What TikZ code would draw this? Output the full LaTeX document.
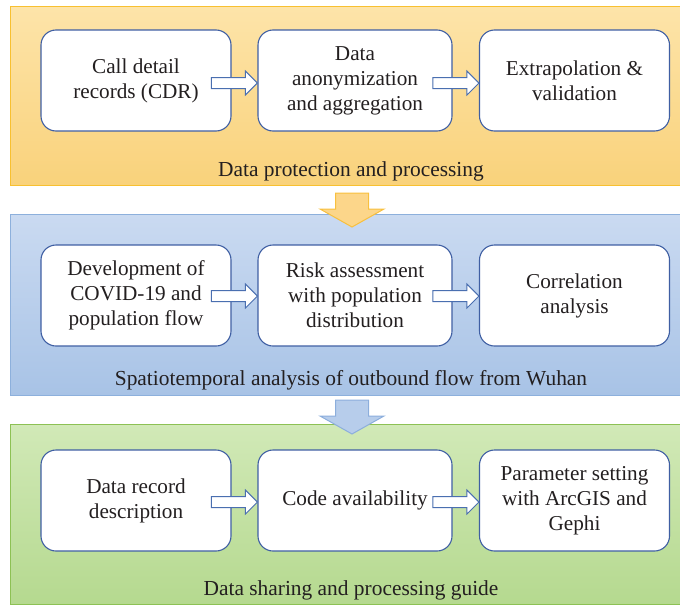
\documentclass[tikz,border=0pt]{standalone}
\usepackage{fontspec}
\setmainfont{Liberation Serif}
\usetikzlibrary{calc}
\definecolor{txt}{HTML}{231F20}
\definecolor{boxline}{HTML}{3F5FA3}
\definecolor{arrline}{HTML}{4A6FB0}
\definecolor{oTop}{HTML}{FDE4A9}
\definecolor{oBot}{HTML}{F9D27B}
\definecolor{oLine}{HTML}{F8C030}
\definecolor{bTop}{HTML}{CADAF1}
\definecolor{bBot}{HTML}{A8C3E6}
\definecolor{bLine}{HTML}{8DB0DC}
\definecolor{gTop}{HTML}{D1E9B7}
\definecolor{gBot}{HTML}{B5D98F}
\definecolor{gLine}{HTML}{8DC154}
\definecolor{oArrFill}{HTML}{FCD68A}
\definecolor{oArrLine}{HTML}{F8C03E}
\definecolor{bArrFill}{HTML}{B7CDEB}
\definecolor{bArrLine}{HTML}{8CAEDC}
\tikzset{
  panel/.style={draw, line width=1.3pt, minimum width=680pt, minimum height=#1, inner sep=0pt},
  stepbox/.style={draw=boxline, fill=white, line width=1.1pt, rounded corners=15pt,
    minimum width=190pt, minimum height=101pt, align=center, text=txt,
    font=\fontsize{21.2}{25}\selectfont, inner sep=2pt},
  plabel/.style={text=txt, font=\fontsize{21.4}{25}\selectfont, anchor=base, inner sep=0pt},
  barrow/.style={draw=arrline, fill=white, line width=1pt, line join=miter},
  pics/rarrow/.style={code={
    \path[barrow] (0,0) -- (-12,-12) -- (-12,-5.5) -- (-46,-5.5) -- (-46,5.5) -- (-12,5.5) -- (-12,12) -- cycle;}},
  pics/darrow/.style={code={
    \path[pic actions, line width=1pt] (0,0) -- (-32,-18) -- (-16.5,-18) -- (-16.5,-34) -- (16.5,-34) -- (16.5,-18) -- (32,-18) -- cycle;}},
}
\begin{document}
\begin{tikzpicture}[x=1pt,y=-1pt]
\useasboundingbox (0,0) rectangle (680,608);
% panels
\node[panel=179pt, draw=oLine, top color=oTop, bottom color=oBot, anchor=north west] (p1) at (10,6) {};
\node[panel=181pt, draw=bLine, top color=bTop, bottom color=bBot, anchor=north west] (p2) at (10,214) {};
\node[panel=180pt, draw=gLine, top color=gTop, bottom color=gBot, anchor=north west] (p3) at (10,424) {};
% panel labels
\node[plabel] (l1) at (351,176) {Data protection and processing};
\node[plabel] (l2) at (351,385) {Spatiotemporal analysis of outbound flow from Wuhan};
\node[plabel] (l3) at (351,595) {Data sharing and processing guide};
% row 1
\node[stepbox] (a1) at (136,80.5) {Call detail\\records (CDR)};
\node[stepbox, minimum width=194pt] (a2) at (355,80.5) {Data\\anonymization\\and aggregation};
\node[stepbox] (a3) at (574.5,80.5) {Extrapolation \&\\validation};
% row 2
\node[stepbox] (b1) at (136,295.5) {Development of\\COVID-19 and\\population flow};
\node[stepbox, minimum width=194pt] (b2) at (355,295.5) {Risk assessment\\with population\\distribution};
\node[stepbox] (b3) at (574.5,295.5) {Correlation\\analysis};
% row 3
\node[stepbox] (c1) at (136,500.5) {Data record\\description};
\node[stepbox, minimum width=194pt] (c2) at (355,500.5) {Code availability};
\node[stepbox] (c3) at (574.5,500.5) {Parameter setting\\with ArcGIS and\\Gephi};
% block arrows
\pic at ($(a2.west)+(0,2.5)$) {rarrow};
\pic at ($(a3.west)+(0,2.5)$) {rarrow};
\pic at ($(b2.west)+(0,0.5)$) {rarrow};
\pic at ($(b3.west)+(0,0.5)$) {rarrow};
\pic at ($(c2.west)+(0,1.5)$) {rarrow};
\pic at ($(c3.west)+(0,1.5)$) {rarrow};
% down arrows
\pic[draw=oArrLine, fill=oArrFill] at (352,227) {darrow};
\pic[draw=bArrLine, fill=bArrFill] at (352,434) {darrow};
\end{tikzpicture}
\end{document}
